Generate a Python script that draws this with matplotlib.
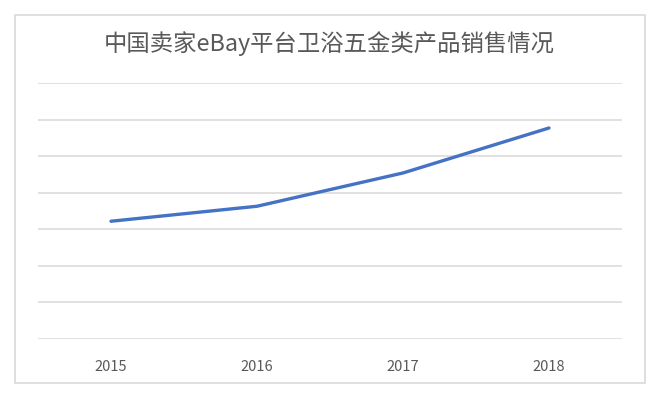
import matplotlib
matplotlib.use('Agg')
import matplotlib.pyplot as plt
from matplotlib.patches import Rectangle

plt.rcParams['font.family'] = ['Noto Sans CJK SC', 'DejaVu Sans']

years = ['2015', '2016', '2017', '2018']
sales = [3.22, 3.63, 4.54, 5.77]
title = '中国卖家eBay平台卫浴五金类产品销售情况'

fig = plt.figure(figsize=(6.58, 4.0), dpi=100)
fig.patch.set_facecolor('white')

# chart frame
fig.patches.append(Rectangle((15 / 658, 1 - 383 / 400), 630 / 658, 368 / 400,
                             transform=fig.transFigure, fill=False,
                             edgecolor='#d9d9d9', linewidth=1.2))

ax = fig.add_axes([38 / 658, 1 - 339 / 400, 584 / 658, 256 / 400])
ax.plot(range(len(years)), sales, color='#4472C4', linewidth=2.4,
        solid_capstyle='round', zorder=3)

ax.set_xlim(-0.5, len(years) - 0.5)
ax.set_ylim(0, 7)
ax.set_yticks(range(0, 8))
ax.set_yticklabels([])
ax.yaxis.grid(True, color='#d9d9d9', linewidth=1.1)
ax.set_xticks(range(len(years)))
ax.set_xticklabels(years, color='#595959', fontsize=10.5)
ax.tick_params(axis='both', length=0)
ax.tick_params(axis='x', pad=15)
for s in ax.spines.values():
    s.set_visible(False)

fig.text(0.5, 1 - 44 / 400, title, ha='center', va='center',
         fontsize=16.8, color='#595959', fontweight='light')

fig.savefig('out.png', dpi=100)
